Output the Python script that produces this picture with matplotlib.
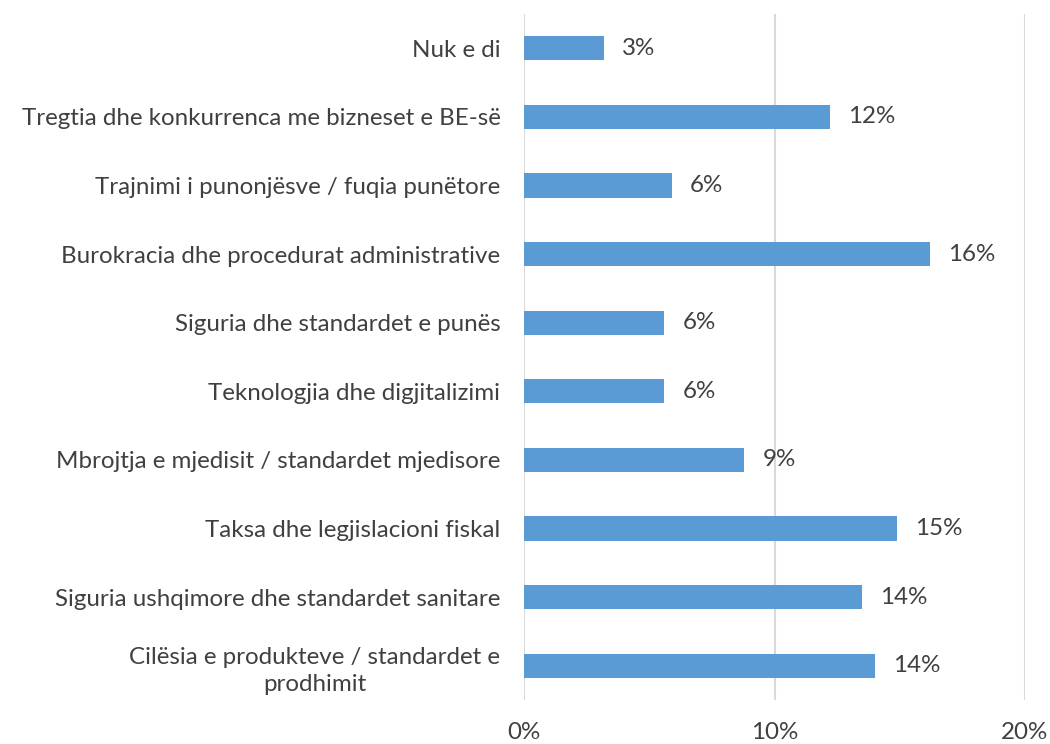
import numpy as np
import matplotlib.pyplot as plt

categories = [
    "Nuk e di",
    "Tregtia dhe konkurrenca me bizneset e BE-së",
    "Trajnimi i punonjësve / fuqia punëtore",
    "Burokracia dhe procedurat administrative",
    "Siguria dhe standardet e punës",
    "Teknologjia dhe digjitalizimi",
    "Mbrojtja e mjedisit / standardet mjedisore",
    "Taksa dhe legjislacioni fiskal",
    "Siguria ushqimore dhe standardet sanitare",
    "Cilësia e produkteve / standardet e\nprodhimit",
]
values = [3.2, 12.2, 5.9, 16.2, 5.6, 5.6, 8.8, 14.9, 13.5, 14.0]
xticks = [0, 10, 20]

plt.rcParams['font.family'] = ['Lato', 'DejaVu Sans']
text_col = '#404040'
fs = 17.4

fig = plt.figure(figsize=(10.5, 7.44), dpi=100)
ax = fig.add_axes([524/1050, 44/744, 501/1050, 686/744])

y = np.arange(len(categories))
ax.barh(y, values, height=0.35, color='#5B9BD5', zorder=3)
for yi, v in zip(y, values):
    ax.annotate(f"{v:.0f}%", (v, yi), xytext=(13, 0), textcoords='offset points',
                va='center', ha='left', fontsize=fs, color=text_col)

ax.set_ylim(len(categories) - 0.5, -0.5)
ax.set_xlim(0, 20)
ax.set_xticks(xticks)
ax.set_xticklabels([f"{t}%" for t in xticks], fontsize=fs, color=text_col)
ax.set_yticks(y)
ax.set_yticklabels(categories, fontsize=fs, color=text_col,
                   multialignment='center', linespacing=1.35)
ax.tick_params(length=0)
ax.tick_params(axis='y', pad=17)
ax.tick_params(axis='x', pad=16)
ax.grid(axis='x', color='#D9D9D9', linewidth=1.5, zorder=0)
for s in ax.spines.values():
    s.set_visible(False)

fig.savefig('out.png', dpi=100)
